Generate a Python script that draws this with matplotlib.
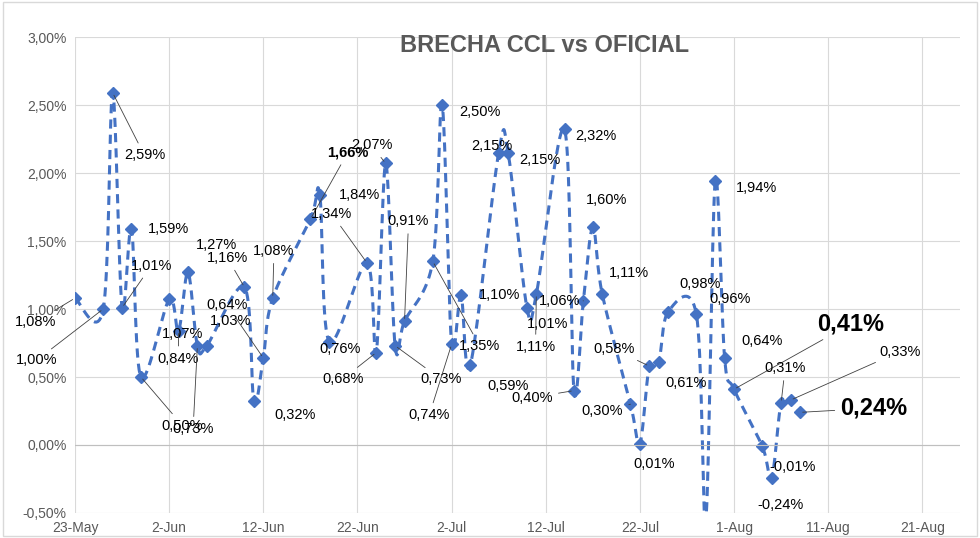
import numpy as np
import matplotlib
matplotlib.use("Agg")
import matplotlib.pyplot as plt
import datetime as dt

start = dt.date(2023, 5, 23)
day_offsets = [0,3,4,5,6,7,10,11,12,13,14,18,19,20,21,25,26,27,31,32,33,34,35,38,39,40,41,42,45,46,48,49,52,53,54,55,56,59,60,61,62,63,66,67,68,69,70,73,74,75,76,77]
values = [1.08,1.00,2.59,1.01,1.59,0.50,1.07,0.84,1.27,0.73,0.73,1.16,0.32,0.64,1.08,1.66,1.84,0.76,1.34,0.68,2.07,0.73,0.91,1.35,2.50,0.74,1.10,0.59,2.15,2.15,1.01,1.11,2.32,0.40,1.06,1.60,1.11,0.30,0.01,0.58,0.61,0.98,0.96,-0.55,1.94,0.64,0.41,-0.01,-0.24,0.31,0.33,0.24]
labels = ["1,08%","1,00%","2,59%","1,01%","1,59%","0,50%","1,07%","0,84%","1,27%","0,73%","1,03%","1,16%","0,32%","0,64%","1,08%","1,66%","1,84%","0,76%","1,34%","0,68%","2,07%","0,73%","0,91%","1,35%","2,50%","0,74%","1,10%","0,59%","2,15%","2,15%","1,01%","1,11%","2,32%","0,40%","1,06%","1,60%","1,11%","0,30%","0,01%","0,58%","0,61%","0,98%","0,96%","","1,94%","0,64%","0,41%","-0,01%","-0,24%","0,31%","0,33%","0,24%"]
yticks = [-0.5,0,0.5,1.0,1.5,2.0,2.5,3.0]
xtick_days = [0,10,20,30,40,50,60,70,80,90]

# label offsets in points (styling)
offsets = {0:(-43,-17),1:(-63,-37),2:(8,-45),3:(6,30),4:(12,0),5:(15,-35),6:(-5,-25),7:(-15,-20),8:(6,20),9:(-18,-60),10:(2,18),11:(-27,21),12:(15,-10),13:(-41,38),14:(-14,34),15:(12,48),16:(14,0),17:(-7,-5),18:(-40,35),19:(-39,-19),20:(-25,13),21:(18,-24),22:(-12,72),23:(19,-61),24:(12,-5),25:(-31,-51),26:(13,0),27:(12,-15),28:(-20,5),29:(8,-5),30:(0,-12),31:(-15,-38),32:(8,-5),33:(-45,-5),34:(-32,0),35:(-5,20),36:(5,15),37:(-35,-5),38:(-5,-15),39:(-40,12),40:(5,-15),41:(8,20),42:(9,11),44:(15,-5),45:(12,12),46:(60,47),47:(5,-15),48:(-10,-20),49:(-12,25),50:(64,35),51:(29,3)}
big = {46,51}

x = np.array(day_offsets, float); y = np.array(values, float)
P = np.column_stack([x, y]); P = np.vstack([P[0], P, P[-1]])
xs, ys = [], []
t = np.linspace(0, 1, 20)
for i in range(1, len(P)-2):
    p0,p1,p2,p3 = P[i-1],P[i],P[i+1],P[i+2]
    pts = 0.5*((2*p1)[None,:] + (-p0+p2)[None,:]*t[:,None] + (2*p0-5*p1+4*p2-p3)[None,:]*(t**2)[:,None] + (-p0+3*p1-3*p2+p3)[None,:]*(t**3)[:,None])
    xs.extend(pts[:,0]); ys.extend(pts[:,1])

plt.rcParams['font.family'] = 'Liberation Sans'
fig = plt.figure(figsize=(9.8,5.38), dpi=100)
ax = fig.add_axes([75/980, 1-513/538, 885/980, 476/538])
col = '#4472C4'
ax.plot(xs, ys, ls=(0,(3,2)), color=col, lw=2.2)
ax.plot(x, y, ls='none', marker='D', ms=6, color=col)
ax.set_ylim(-0.5, 3.0); ax.set_xlim(0, 94)
ax.set_yticks(yticks)
ax.set_yticklabels([f"{v:.2f}".replace('.',',')+'%' for v in yticks], color='#595959', fontsize=10)
ax.set_xticks(xtick_days)
ax.set_xticklabels([(start+dt.timedelta(days=d)).strftime('%-d-%b') for d in xtick_days], color='#595959', fontsize=10)
ax.grid(True, color='#d9d9d9', lw=0.8)
for s in ax.spines.values(): s.set_visible(False)
ax.axhline(0, color='#bfbfbf', lw=0.8)
ax.tick_params(length=0, pad=6)
for i,(xi,yi,l) in enumerate(zip(x,y,labels)):
    if not l: continue
    dx,dy = offsets.get(i,(8,8))
    fs = 17 if i in big else 10.5
    ax.annotate(l,(xi,yi),xytext=(dx,dy),textcoords='offset points',fontsize=fs,
                fontweight='bold' if i in big or i==15 else 'normal',ha='left',va='center',
                arrowprops=dict(arrowstyle='-',color='#404040',lw=0.6) if abs(dx)+abs(dy)>30 else None)
fig.text(545/980, 1-45/538, 'BRECHA CCL vs OFICIAL', fontsize=17, fontweight='bold', color='#595959', ha='center', va='center')
fig.patches.append(plt.Rectangle((0.003,0.003),0.994,0.994,transform=fig.transFigure,fill=False,ec='#d9d9d9',lw=1))
fig.savefig('out.png', dpi=100)
